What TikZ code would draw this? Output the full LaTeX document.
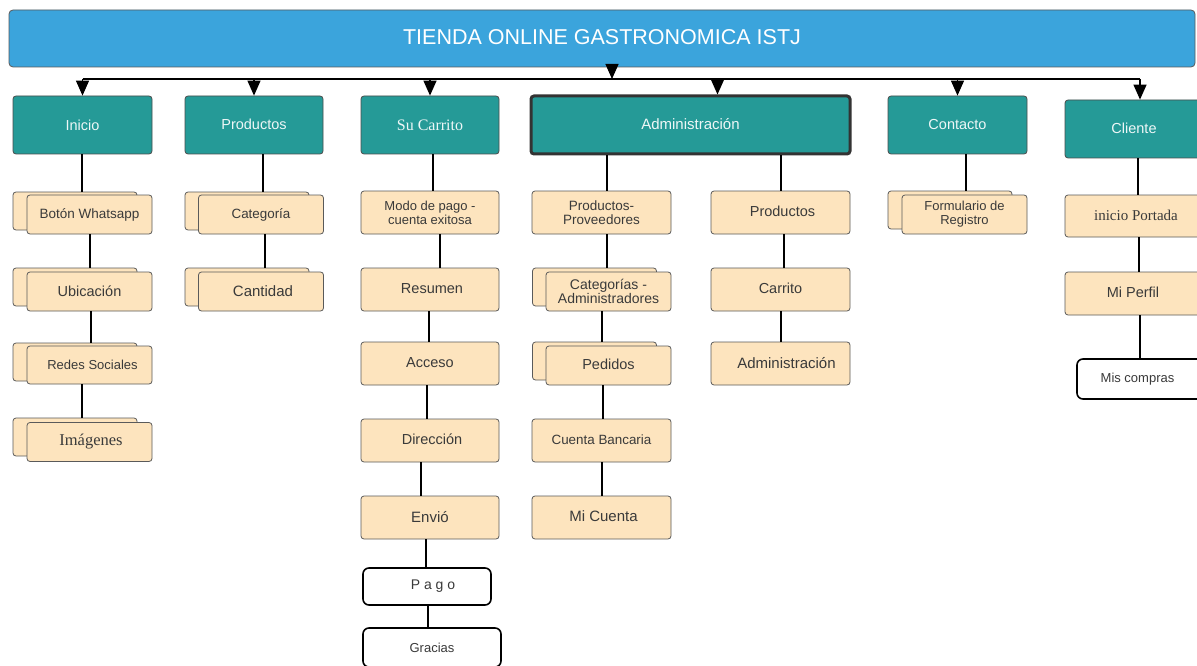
\documentclass[tikz,border=0pt]{standalone}
\usepackage{fontspec}
\setmainfont{Liberation Sans}
\newfontfamily\seriffont{Liberation Serif}
\usetikzlibrary{arrows.meta}
\definecolor{titleblue}{HTML}{3BA4DC}
\definecolor{tealbox}{HTML}{259A97}
\definecolor{peachfill}{HTML}{FDE4BE}
\definecolor{txtgray}{HTML}{3A3A3A}
\definecolor{edgegray}{HTML}{5A5A5A}
\newcommand\fs[2]{\fontsize{#1}{#2}\selectfont}
\begin{document}
\begin{tikzpicture}[x=1pt,y=-1pt,
  topbox/.style={draw=black!70, fill=tealbox, rounded corners=3pt, line width=0.8pt,
    minimum width=139pt, minimum height=58pt, inner sep=0pt, text=white!92!tealbox,
    font=\fs{14.5}{17}},
  pch/.style={draw=edgegray, fill=peachfill, rounded corners=3pt, line width=0.8pt,
    inner sep=0pt, align=center, text=txtgray, font=\fs{14.5}{16}},
  pbox/.style={pch, minimum width=139pt, minimum height=43pt},
  stackfront/.style={pch, minimum width=125pt, minimum height=39pt},
  stackback/.style={pch, minimum width=124pt, minimum height=38pt},
  wbox/.style={draw=black, line width=1.6pt, fill=white, rounded corners=6pt,
    inner sep=0pt, text=txtgray, font=\fs{13}{15}},
  link/.style={line width=1.3pt},
  arr/.style={line width=1.3pt, -{Triangle[width=13pt,length=15pt]}}
]
\useasboundingbox (0,0) rectangle (1197,666);
\clip (0,0) rectangle (1197,666);
\fill[white] (0,0) rectangle (1197,666);

% title
\node[draw=edgegray, fill=titleblue, rounded corners=4pt, line width=0.8pt,
  minimum width=1186pt, minimum height=57pt, inner sep=0pt, text=white,
  font=\fs{21.5}{24}] (title) at (602,38.5) {\raisebox{3pt}{TIENDA ONLINE GASTRONOMICA ISTJ}};

% top level
\node[topbox] (inicio) at (82.5,125) {Inicio};
\node[topbox, minimum width=138pt] (prod) at (254,125) {\raisebox{2pt}{Productos}};
\node[topbox, minimum width=138pt, font=\seriffont\fs{16}{17}] (carrito) at (430,125) {Su Carrito};
\node[topbox, minimum width=319pt, line width=3pt, draw=black!80, font=\fs{15}{17}] (admin) at (690.5,125) {\raisebox{2pt}{Administración}};
\node[topbox] (contacto) at (957.5,125) {\raisebox{2pt}{Contacto}};
\node[topbox, minimum width=142pt] (cliente) at (1136,129) {\raisebox{2pt}{Cliente}\hspace*{4pt}};

% bus
\coordinate (bus) at (612,79);
\draw[arr] (title.south -| bus) -- (bus);
\draw[link] (inicio.north |- bus) -- (cliente.north |- bus) -- ++(4,0);
\draw[arr] (inicio.north |- bus) -- (inicio.north);
\draw[arr] (prod.north |- bus) -- (prod.north);
\draw[arr] (carrito.north |- bus) -- (carrito.north);
\draw[arr] ([xshift=27pt]admin.north |- bus) -- ([xshift=27pt]admin.north);
\draw[arr] (contacto.north |- bus) -- (contacto.north);
\draw[arr] ([xshift=4pt]cliente.north |- bus) -- ([xshift=4pt]cliente.north);

% Inicio column
\node[stackback] (bwB) at (75,211) {};
\node[stackfront, font=\fs{13.5}{14}] (bw) at (89.5,214.5) {Botón Whatsapp};
\node[stackback] (ubB) at (75,287) {};
\node[stackfront] (ub) at (89.5,291.5) {Ubicación};
\node[stackback] (rsB) at (75,362) {};
\node[stackfront, minimum height=38pt, font=\fs{13}{15}] (rs) at (89.5,365) {\hspace*{6pt}Redes Sociales};
\node[stackback] (imB) at (75,437) {};
\node[stackfront, font=\seriffont\fs{16.5}{17}] (im) at (89.5,442) {\hspace*{3pt}Imágenes};
\draw[link] (inicio.south -| 82,0) -- (bwB.north -| 82,0);
\draw[link] (bw.south -| 90,0) -- (ubB.north -| 90,0);
\draw[link] (ub.south -| 91,0) -- (rsB.north -| 91,0);
\draw[link] (rs.south -| 82,0) -- (imB.north -| 82,0);

% Productos column
\node[stackback] (catB) at (247,211) {};
\node[stackfront, font=\fs{13.4}{15}] (cat) at (261,214.5) {Categoría};
\node[stackback] (canB) at (247,287) {};
\node[stackfront, font=\fs{15}{17}] (can) at (261,291.5) {\hspace*{4pt}Cantidad};
\draw[link] (prod.south -| 263,0) -- (catB.north -| 263,0);
\draw[link] (cat.south -| 265,0) -- (canB.north -| 265,0);

% Su Carrito column
\node[pbox, minimum width=138pt, font=\fs{13}{14}] (modo) at (430,212.5) {Modo de pago -\\cuenta exitosa};
\node[pbox, minimum width=138pt] (res) at (430,289.5) {\raisebox{2pt}{\hspace*{4pt}Resumen}};
\node[pbox, minimum width=138pt] (acc) at (430,363.5) {\raisebox{2pt}{Acceso}};
\node[pbox, minimum width=138pt] (dir) at (430,440.5) {\raisebox{2pt}{\hspace*{4pt}Dirección}};
\node[pbox, minimum width=138pt, font=\fs{15}{17}] (env) at (430,517.5) {\raisebox{2pt}{Envió}};
\node[wbox, minimum width=128pt, minimum height=37pt, font=\fs{14}{15}] (pago) at (427,586.5)
  {\hspace*{12pt}\addfontfeature{LetterSpace=28}Pago};
\node[wbox, minimum width=138pt, minimum height=39pt] (gracias) at (432,647.5) {Gracias};
\draw[link] (carrito.south -| 433,0) -- (modo.north -| 433,0);
\draw[link] (modo.south -| 440,0) -- (res.north -| 440,0);
\draw[link] (res.south -| 429,0) -- (acc.north -| 429,0);
\draw[link] (acc.south -| 427,0) -- (dir.north -| 427,0);
\draw[link] (dir.south -| 421,0) -- (env.north -| 421,0);
\draw[link] (env.south -| 426,0) -- (pago.north -| 426,0);
\draw[link] (pago.south -| 428,0) -- (gracias.north -| 428,0);

% Administracion left column
\node[pbox, font=\fs{13.5}{14}] (pp) at (601.5,212.5) {Productos-\\Proveedores};
\node[stackback] (caB) at (594.5,287) {};
\node[stackfront, font=\fs{14}{14}] (ca) at (608.5,291.5) {Categorías -\\Administradores};
\node[stackback] (peB) at (594.5,361) {};
\node[stackfront] (pe) at (608.5,365.5) {\raisebox{2pt}{Pedidos}};
\node[pbox, font=\fs{13.4}{14}] (cb) at (601.5,440.5) {\raisebox{2pt}{Cuenta Bancaria}};
\node[pbox, font=\fs{15}{17}] (mc) at (601.5,517.5) {\raisebox{2pt}{\hspace*{4pt}Mi Cuenta}};
\draw[link] (admin.south -| 607,0) -- (pp.north -| 607,0);
\draw[link] (pp.south -| 607,0) -- (caB.north -| 607,0);
\draw[link] (ca.south -| 602,0) -- (peB.north -| 602,0);
\draw[link] (pe.south -| 603,0) -- (cb.north -| 603,0);
\draw[link] (cb.south -| 602,0) -- (mc.north -| 602,0);

% Administracion right column
\node[pbox] (ap) at (780.5,212.5) {\raisebox{3pt}{\hspace*{4pt}Productos}};
\node[pbox] (ac) at (780.5,289.5) {\raisebox{2pt}{Carrito}};
\node[pbox, font=\fs{15}{17}] (aa) at (780.5,363.5) {\raisebox{2pt}{\hspace*{12pt}Administración}};
\draw[link] (admin.south -| 781,0) -- (ap.north -| 781,0);
\draw[link] (ap.south -| 784,0) -- (ac.north -| 784,0);
\draw[link] (ac.south -| 781,0) -- (aa.north -| 781,0);

% Contacto column
\node[stackback] (frB) at (950,210) {};
\node[stackfront, font=\fs{13}{14}] (fr) at (964.5,214.5) {Formulario de\\Registro};
\draw[link] (contacto.south -| 966,0) -- (frB.north -| 966,0);

% Cliente column
\node[pbox, minimum width=142pt, minimum height=42pt, font=\seriffont\fs{15}{16}] (ip) at (1136,216) {\raisebox{2pt}{inicio Portada}};
\node[pbox, minimum width=142pt] (mp) at (1136,293.5) {\raisebox{2pt}{Mi Perfil}\hspace*{6pt}};
\node[wbox, minimum width=133pt, minimum height=40pt] (mcomp) at (1143.5,379) {Mis compras\hspace*{12pt}};
\draw[link] (cliente.south -| 1138,0) -- (ip.north -| 1138,0);
\draw[link] (ip.south -| 1139,0) -- (mp.north -| 1139,0);
\draw[link] (mp.south -| 1140,0) -- (mcomp.north -| 1140,0);
\end{tikzpicture}
\end{document}
